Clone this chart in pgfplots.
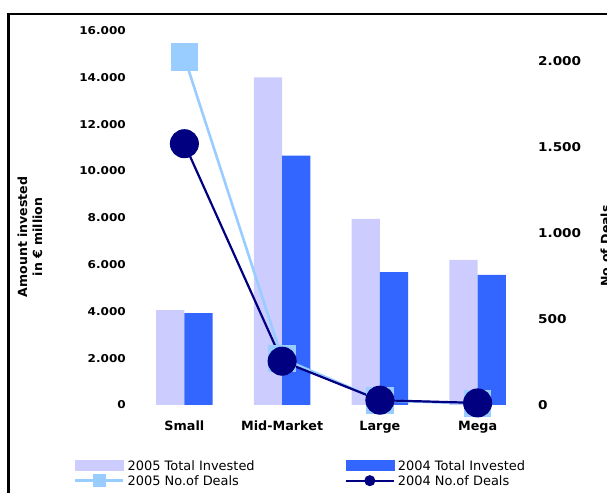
\documentclass[border=0pt]{standalone}
\usepackage{fontspec}
\setmainfont{DejaVu Sans}
\newfontfamily\tickfont{DejaVu Sans}[FakeStretch=1.12]
\usepackage{pgfplots}
\pgfplotsset{compat=1.18}

\definecolor{bar05}{RGB}{204,204,255}
\definecolor{bar04}{RGB}{51,102,255}
\definecolor{deal05}{RGB}{153,204,255}
\definecolor{deal04}{RGB}{0,0,128}

\pgfplotsset{
  dealaxis/.style={
    at={(135.5bp,88bp)}, anchor=south west,
    scale only axis, width=391bp, height=374.5bp,
    xmin=-0.5, xmax=3.5, enlargelimits=false,
    axis line style={draw=none}, tick style={draw=none},
    major tick length=0pt,
    scaled y ticks=false,
    /pgf/number format/1000 sep={.},
    /pgf/number format/assume math mode=true,
  },
  % legend image: a line with one mark of the given size in its middle
  lineleg/.style={legend image code/.code={%
    \draw[mark repeat=2,mark phase=2,##1,mark size=#1]
      plot coordinates {(0bp,0bp) (24bp,0bp) (48bp,0bp)};}},
  % legend image: a flat filled patch
  barleg/.style={legend image code/.code={%
    \fill[#1] (0bp,-5bp) rectangle (48bp,5bp);}},
}

\begin{document}
\begin{tikzpicture}[x=1bp,y=1bp]
\useasboundingbox (0,0) rectangle (607,493);
\clip (0,0) rectangle (607,493);

% outer frame
\draw[line width=2.4bp] (8.3,-5) -- (8.3,479) -- (630,479);

% amounts invested (left scale)
\begin{axis}[dealaxis,
  axis x line*=bottom, axis y line*=left,
  ymin=0, ymax=16000,
  ybar=0pt, bar width=28.3bp,
  xtick={0,1,2,3},
  xticklabels={Small,Mid-Market,Large,Mega},
  xticklabel style={inner sep=0pt, yshift=-15.5bp, text height=9.5bp, text depth=2.5bp,
    font=\bfseries\fontsize{12.8}{15}\selectfont},
  ytick={0,2000,...,16000},
  yticklabel style={inner sep=0pt, xshift=-9.5bp,
    font=\tickfont\bfseries\fontsize{10.8}{13}\selectfont},
]
\addplot[fill=bar05, draw=none] coordinates {(0,4050) (1,14000) (2,7950) (3,6200)};
\addplot[fill=bar04, draw=none] coordinates {(0,3930) (1,10650) (2,5680) (3,5560)};
\end{axis}

% number of deals (right scale)
\begin{axis}[dealaxis,
  axis x line=none, axis y line*=right,
  clip=false,
  ymin=0, ymax=2180,
  ytick={0,500,...,2000},
  yticklabel style={inner sep=0pt, xshift=11.4bp,
    font=\tickfont\bfseries\fontsize{12.2}{14}\selectfont},
  legend columns=2,
  legend cell align=left,
  legend style={
    at={(-0.1573,-0.1451)}, anchor=north west,
    draw=none, fill=none, inner sep=0pt, outer sep=0pt,
    row sep=2.3bp,
    nodes={inner sep=0pt, font=\fontsize{13}{15}\selectfont, text height=11bp, text depth=1.7bp},
    /tikz/every odd column/.append style={column sep=3bp},
    /tikz/every even column/.append style={column sep=90bp},
  },
]
\addlegendimage{barleg=bar05}
\addlegendentry{2005 Total Invested}
\addlegendimage{barleg=bar04}
\addlegendentry{2004 Total Invested}

\addplot[deal05, line width=2.6bp, mark=square*, mark size=13.3bp,
  mark options={solid, line width=1pt}, lineleg=6bp]
  coordinates {(0,2025) (1,271) (2,27) (3,8)};
\addlegendentry{2005 No.of Deals}

\addplot[deal04, line width=2.2bp, mark=*, mark size=14bp,
  mark options={solid, line width=1pt}, lineleg=5bp]
  coordinates {(0,1521) (1,255) (2,28) (3,12)};
\addlegendentry{2004 No.of Deals}
\end{axis}

% axis titles
\node[rotate=90, align=center, inner sep=0pt, font=\bfseries\fontsize{12.6}{15}\selectfont]
  at (30,256) {Amount invested\\in € million};
\node[rotate=90, anchor=north, inner sep=0pt, font=\bfseries\fontsize{12.6}{15}\selectfont]
  at (600.5,247) {No.of Deals};
\end{tikzpicture}
\end{document}
